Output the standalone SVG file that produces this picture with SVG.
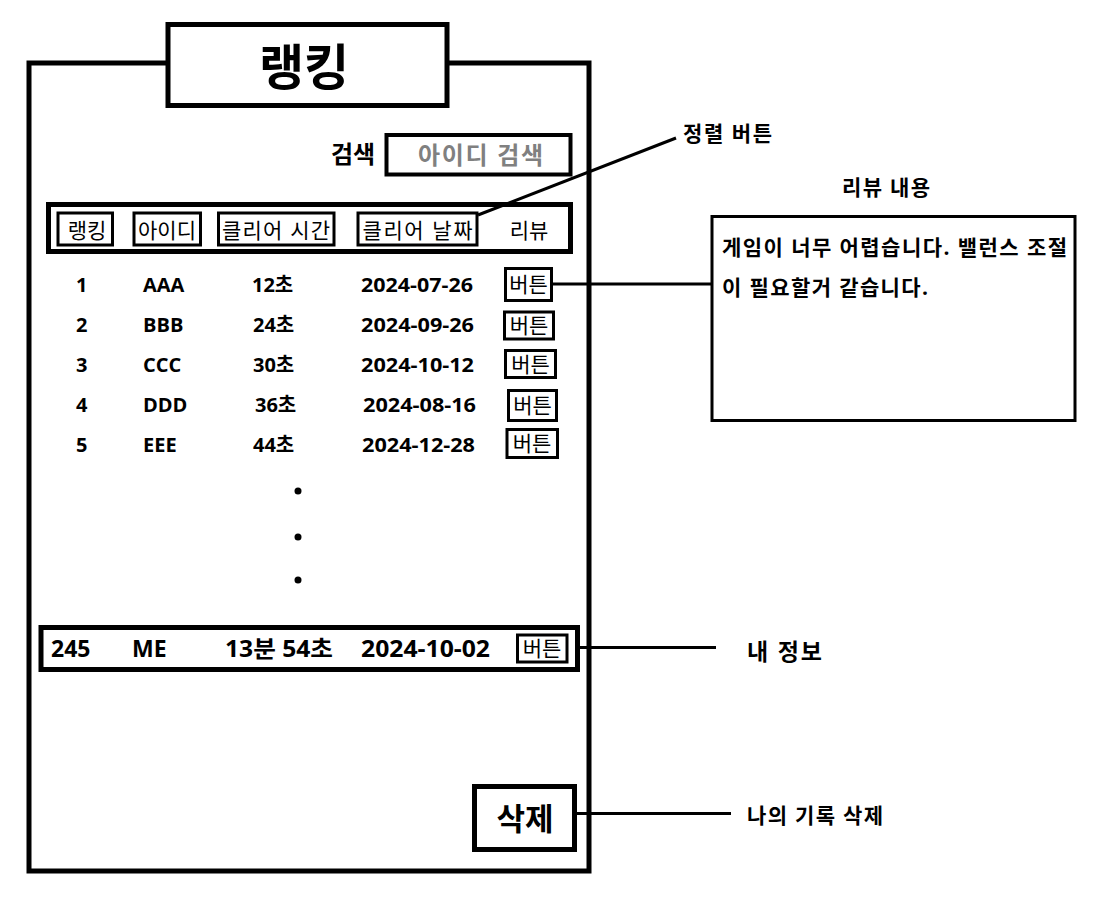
<svg xmlns="http://www.w3.org/2000/svg" width="1098" height="900" viewBox="0 0 1098 900">
<style>
text{font-family:"Open Sans","Noto Sans CJK KR","Noto Sans",sans-serif;fill:#000}
.b{font-weight:bold}
.box{fill:#fff;stroke:#000}
.row{font-size:20px;font-weight:bold}
.btn{fill:#fff;stroke:#000;stroke-width:3}
.btxt{font-size:21px;font-weight:normal;text-anchor:middle}
.hd{font-size:21px;font-weight:normal;text-anchor:middle}
.conn{stroke:#000;stroke-width:3;fill:none}
</style>
<rect width="1098" height="900" fill="#fff"/>

<g id="frame">
<rect x="29" y="63" width="560" height="808" fill="#fff" stroke="#000" stroke-width="5"/>
</g>

<g id="title">
<rect class="box" x="168" y="24.5" width="279" height="81" stroke-width="5"/>
<text x="304" y="85" class="b" font-size="49" text-anchor="middle">랭킹</text>
</g>

<g id="search">
<text x="353" y="163" class="b" font-size="24" text-anchor="middle">검색</text>
<rect class="box" x="386.5" y="135" width="184" height="39.5" stroke-width="4"/>
<text x="480.5" y="164" class="b" font-size="24" text-anchor="middle" textLength="125" lengthAdjust="spacing" style="fill:#808080">아이디 검색</text>
</g>

<g id="header">
<rect class="box" x="48.5" y="204.5" width="522" height="47" stroke-width="5"/>
<rect class="btn" x="58" y="213" width="54.5" height="32" stroke-width="4"/>
<text class="hd" x="87" y="238">랭킹</text>
<rect class="btn" x="134" y="213" width="66.5" height="32" stroke-width="4"/>
<text class="hd" x="167" y="238">아이디</text>
<rect class="btn" x="218.5" y="213" width="115.5" height="32" stroke-width="4"/>
<text class="hd" x="276" y="238" textLength="108" lengthAdjust="spacing">클리어 시간</text>
<rect class="btn" x="358" y="213" width="119" height="32" stroke-width="4"/>
<text class="hd" x="417.5" y="238" textLength="110" lengthAdjust="spacing">클리어 날짜</text>
<text class="hd" x="529" y="238">리뷰</text>
</g>

<g id="row1">
<text class="row" x="76" y="292">1</text>
<text class="row" x="143" y="292">AAA</text>
<text class="row" x="252" y="292">12초</text>
<text class="row" x="361" y="292" textLength="112" lengthAdjust="spacingAndGlyphs">2024-07-26</text>
<rect class="btn" x="505.5" y="268.5" width="46" height="32"/>
<text class="btxt" x="528.5" y="292">버튼</text>
</g>
<g id="row2">
<text class="row" x="76" y="332">2</text>
<text class="row" x="143" y="332">BBB</text>
<text class="row" x="253" y="332">24초</text>
<text class="row" x="361" y="332" textLength="113" lengthAdjust="spacingAndGlyphs">2024-09-26</text>
<rect class="btn" x="504.5" y="312" width="49" height="27"/>
<text class="btxt" x="529" y="333">버튼</text>
</g>
<g id="row3">
<text class="row" x="76" y="372">3</text>
<text class="row" x="143" y="372">CCC</text>
<text class="row" x="253" y="372">30초</text>
<text class="row" x="361" y="372" textLength="113" lengthAdjust="spacingAndGlyphs">2024-10-12</text>
<rect class="btn" x="505.5" y="350.5" width="50" height="27"/>
<text class="btxt" x="530.5" y="372">버튼</text>
</g>
<g id="row4">
<text class="row" x="76" y="412">4</text>
<text class="row" x="143" y="412">DDD</text>
<text class="row" x="255" y="412">36초</text>
<text class="row" x="363" y="412" textLength="113" lengthAdjust="spacingAndGlyphs">2024-08-16</text>
<rect class="btn" x="508.5" y="390.5" width="48" height="30"/>
<text class="btxt" x="532.5" y="413">버튼</text>
</g>
<g id="row5">
<text class="row" x="76" y="452">5</text>
<text class="row" x="143" y="452">EEE</text>
<text class="row" x="253" y="452">44초</text>
<text class="row" x="362" y="452" textLength="113" lengthAdjust="spacingAndGlyphs">2024-12-28</text>
<rect class="btn" x="507" y="429.5" width="50.5" height="28"/>
<text class="btxt" x="532" y="451">버튼</text>
</g>

<g id="ellipsis">
<circle cx="298" cy="491" r="3.5"/>
<circle cx="298" cy="537" r="3.5"/>
<circle cx="298" cy="580" r="3.5"/>
</g>

<g id="myinfo">
<rect class="box" x="41" y="627.5" width="536.5" height="42" stroke-width="5"/>
<text class="b" font-size="23" x="51" y="657">245</text>
<text class="b" font-size="23" x="132" y="657">ME</text>
<text class="b" font-size="23" x="225" y="657" textLength="108" lengthAdjust="spacingAndGlyphs">13분 54초</text>
<text class="b" font-size="23" x="361" y="657" textLength="129" lengthAdjust="spacingAndGlyphs">2024-10-02</text>
<rect class="btn" x="517.5" y="635" width="49.5" height="27" stroke-width="4"/>
<text class="btxt" x="542" y="656">버튼</text>
</g>

<g id="delete">
<rect class="box" x="474.5" y="786.5" width="100" height="63" stroke-width="5"/>
<text class="b" font-size="31" x="525" y="830" text-anchor="middle">삭제</text>
</g>

<g id="sortLabel">
<text class="b" font-size="21" x="683" y="141" textLength="89" lengthAdjust="spacing">정렬 버튼</text>
</g>

<g id="review">
<text class="b" font-size="21" x="886" y="195" text-anchor="middle" textLength="88" lengthAdjust="spacing">리뷰 내용</text>
<rect class="box" x="712" y="216.5" width="363" height="204" stroke-width="3"/>
<text class="b" font-size="21" x="722" y="255" textLength="345" lengthAdjust="spacing">게임이 너무 어렵습니다. 밸런스 조절</text>
<text class="b" font-size="21" x="722" y="295" textLength="206" lengthAdjust="spacing">이 필요할거 같습니다.</text>
</g>

<g id="myinfoLabel">
<text class="b" font-size="23" x="747" y="660" textLength="75" lengthAdjust="spacing">내 정보</text>
</g>

<g id="deleteLabel">
<text class="b" font-size="21" x="747" y="823" textLength="136" lengthAdjust="spacing">나의 기록 삭제</text>
</g>

<g id="connectors">
<line class="conn" x1="478" y1="215" x2="676" y2="138"/>
<line class="conn" x1="553" y1="284" x2="712" y2="284"/>
<line class="conn" x1="577" y1="647.5" x2="716" y2="647.5"/>
<line class="conn" x1="577" y1="813.5" x2="731" y2="813.5"/>
</g>
</svg>
